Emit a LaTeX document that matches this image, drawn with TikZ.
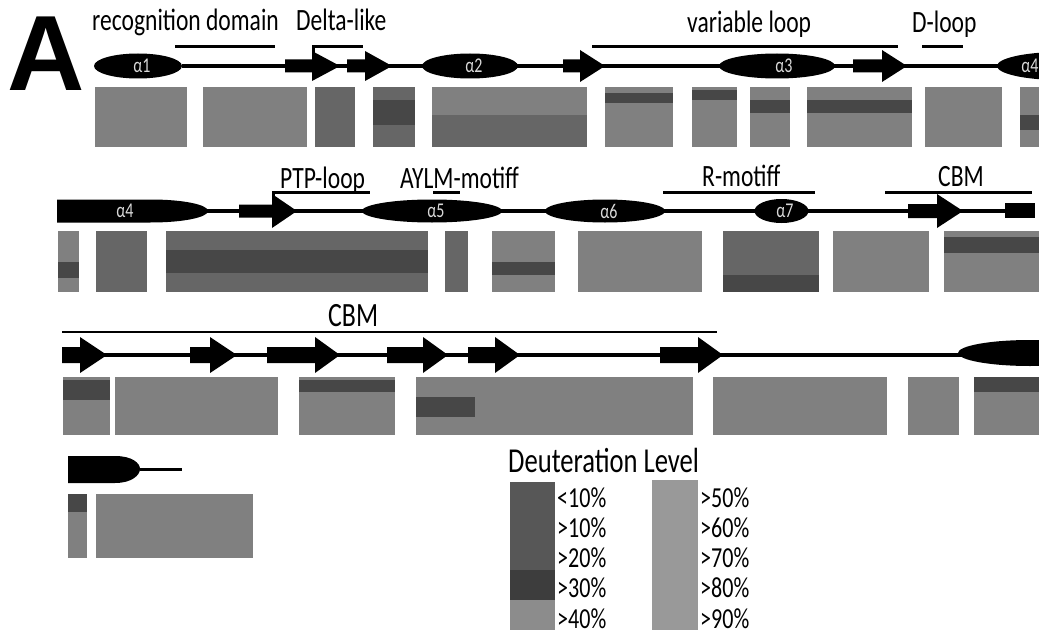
\documentclass[tikz,border=0pt]{standalone}
\usepackage{fontspec}
\setmainfont{Carlito}[FakeStretch=0.76]
\newfontfamily\bigfont{Liberation Sans}[BoldFont={Liberation Sans Bold}]
\newcommand{\bstr}[6]{\fill (#1,#4-#5) -- (#2,#4-#5) -- (#2,#4-#6) -- (#3,#4) -- (#2,#4+#6) -- (#2,#4+#5) -- (#1,#4+#5) -- cycle;}
\begin{document}
\begin{tikzpicture}[x=1pt,y=-1pt,
  lbl/.style={font=\fontsize{31}{31}\selectfont, anchor=base west, inner sep=0pt},
  leg/.style={font=\fontsize{29}{29}\selectfont, anchor=base west, inner sep=0pt},
  alab/.style={font=\fontsize{21}{21}\selectfont, text=white!85!black, inner sep=0pt},
  bb/.style={line width=3.5pt},
  ovl/.style={line width=3pt},
  gbox/.style={fill=black!50},
  band/.style={fill=black!72},
  dbox/.style={fill=black!60}]
\clip (0,0) rectangle (1039,634);
\fill[white] (0,0) rectangle (1039,634);

% big letter
\node[font=\bigfont\bfseries\fontsize{107}{107}\selectfont, anchor=base west, inner sep=0pt] (A) at (7,90) {A};

% ---------- Row 1 ----------
\draw[bb] (182,66) -- (1039,66);
\fill (138,66) ellipse [x radius=44pt, y radius=12.5pt];
\node[alab] (a1) at (142,66) {α1};
\bstr{285}{312}{340}{66}{6.5}{15}
\bstr{347}{365}{392}{66}{6.5}{15}
\fill (470,66) ellipse [x radius=48pt, y radius=12.5pt];
\node[alab] (a2) at (474,66) {α2};
\bstr{563}{580}{605}{66}{6.5}{16}
\fill (777,66) ellipse [x radius=58pt, y radius=12.5pt];
\node[alab] (a3) at (784,66) {α3};
\bstr{853}{882}{907}{66}{6.5}{16}
\fill (1060,66) ellipse [x radius=63pt, y radius=14pt];
\node[alab] (a4r) at (1030,66) {α4};

\node[lbl] (t1) at (92,31) {recognition domain};
\node[lbl] (t2) at (296,31) {Delta-like};
\node[lbl] (t3) at (687,33) {variable loop};
\node[lbl] (t4) at (912,33) {D-loop};
\draw[ovl] (175,47) -- (275,47);
\draw[ovl] (313,53) -- (313,47) -- (363,47);
\draw[ovl] (592,47) -- (898,47);
\draw[ovl] (922,47) -- (963,47);

% row 1 boxes
\fill[gbox] (95,87) rectangle (187,147);
\fill[gbox] (203,87) rectangle (307,147);
\fill[dbox] (315,87) rectangle (355,147);
\fill[dbox] (373,87) rectangle (415,147);
\fill[band] (373,100) rectangle (415,125);
\fill[gbox] (432,87) rectangle (587,147);
\fill[dbox] (432,115) rectangle (587,147);
\fill[gbox] (605,87) rectangle (673,147);
\fill[band] (605,93) rectangle (673,103);
\fill[gbox] (692,87) rectangle (737,147);
\fill[band] (692,90) rectangle (737,100);
\fill[gbox] (750,87) rectangle (790,147);
\fill[band] (750,100) rectangle (790,113);
\fill[gbox] (807,87) rectangle (912,147);
\fill[band] (807,100) rectangle (912,113);
\fill[gbox] (925,87) rectangle (1002,147);
\fill[gbox] (1020,87) rectangle (1039,147);
\fill[band] (1020,115) rectangle (1039,130);

% ---------- Row 2 ----------
\draw[bb] (150,211) -- (1005,211);
\fill (57,199.5) -- (150,199.5) .. controls (185,199.5) and (208,205) .. (208,211) .. controls (208,217) and (185,222.5) .. (150,222.5) -- (57,222.5) -- cycle;
\node[alab] (a4) at (125,211) {α4};
\bstr{239}{272}{297}{211}{6.5}{17}
\fill (432,211) ellipse [x radius=70pt, y radius=11.5pt];
\node[alab] (a5) at (436,211) {α5};
\fill (605,211) ellipse [x radius=60pt, y radius=11.5pt];
\node[alab] (a6) at (609,211) {α6};
\fill (781.5,211) ellipse [x radius=27pt, y radius=12pt];
\node[alab] (a7) at (785,211) {α7};
\bstr{908}{937}{963}{211}{7}{17}
\fill (1005,203) rectangle (1035,218);

\node[lbl] (t5) at (280,188) {PTP-loop};
\node[lbl] (t6) at (400,188) {AYLM-motiff};
\node[lbl] (t7) at (702,186) {R-motiff};
\node[lbl] (t8) at (938,186) {CBM};
\draw[ovl] (273,198) -- (273,192) -- (370,192);
\draw[ovl] (433,192) -- (460,192);
\draw[ovl] (663,192) -- (815,192);
\draw[ovl] (885,192) -- (1032,192);

% row 2 boxes
\fill[gbox] (58,231) rectangle (79,292);
\fill[band] (58,262) rectangle (79,278);
\fill[dbox] (96,231) rectangle (147,292);
\fill[dbox] (166,231) rectangle (428,292);
\fill[band] (166,250) rectangle (428,273);
\fill[dbox] (445,231) rectangle (468,292);
\fill[gbox] (492,231) rectangle (555,292);
\fill[band] (492,262) rectangle (555,275);
\fill[gbox] (578,231) rectangle (702,292);
\fill[dbox] (723,231) rectangle (819,292);
\fill[band] (723,275) rectangle (819,292);
\fill[gbox] (833,231) rectangle (929,292);
\fill[gbox] (944,231) rectangle (1039,292);
\fill[band] (944,237) rectangle (1039,253);

% ---------- Row 3 ----------
\node[font=\fontsize{34}{34}\selectfont, anchor=base west, inner sep=0pt] (t9) at (328,326) {CBM};
\draw[line width=2.5pt] (62,332) -- (717,332);
\draw[bb] (62,355) -- (1039,355);
\bstr{62}{80}{107}{355}{8}{18}
\bstr{190}{210}{237}{355}{8}{18}
\bstr{267}{315}{340}{355}{8}{18}
\bstr{387}{423}{448}{355}{8}{18}
\bstr{468}{495}{520}{355}{8}{18}
\bstr{660}{698}{723}{355}{8}{18}
\fill (1030,353) ellipse [x radius=72pt, y radius=13pt];

% row 3 boxes
\fill[gbox] (63,377) rectangle (110,435);
\fill[band] (63,380) rectangle (110,400);
\fill[gbox] (115,377) rectangle (278,435);
\fill[gbox] (299,377) rectangle (395,435);
\fill[band] (299,380) rectangle (395,392);
\fill[gbox] (416,377) rectangle (693,435);
\fill[band] (416,397) rectangle (475,417);
\fill[gbox] (713,377) rectangle (887,435);
\fill[gbox] (908,377) rectangle (959,435);
\fill[gbox] (974,377) rectangle (1039,435);
\fill[band] (974,377) rectangle (1039,392);

% ---------- bottom left ----------
\fill (68,456) -- (115,456) .. controls (132,456) and (140,463) .. (140,469) .. controls (140,475) and (132,483) .. (115,483) -- (68,483) -- cycle;
\draw[line width=3pt] (140,469) -- (182,469);
\fill[gbox] (68,494) rectangle (87,558);
\fill[band] (68,494) rectangle (87,512);
\fill[gbox] (96,494) rectangle (253,558);

% ---------- legend ----------
\node[font=\fontsize{35}{35}\selectfont, anchor=base west, inner sep=0pt] (lt) at (508,472) {Deuteration Level};
\fill[black!66] (510,482) rectangle (555,570);
\fill[black!76] (510,570) rectangle (555,600);
\fill[black!45] (510,600) rectangle (555,630);
\fill[black!40] (652,480) rectangle (698,630);
\node[leg] (l1) at (557,507) {<10\%};
\node[leg] (l2) at (557,537) {>10\%};
\node[leg] (l3) at (557,567) {>20\%};
\node[leg] (l4) at (557,597) {>30\%};
\node[leg] (l5) at (557,628) {>40\%};
\node[leg] (r1) at (700,507) {>50\%};
\node[leg] (r2) at (700,537) {>60\%};
\node[leg] (r3) at (700,567) {>70\%};
\node[leg] (r4) at (700,597) {>80\%};
\node[leg] (r5) at (700,628) {>90\%};
\end{tikzpicture}
\end{document}
